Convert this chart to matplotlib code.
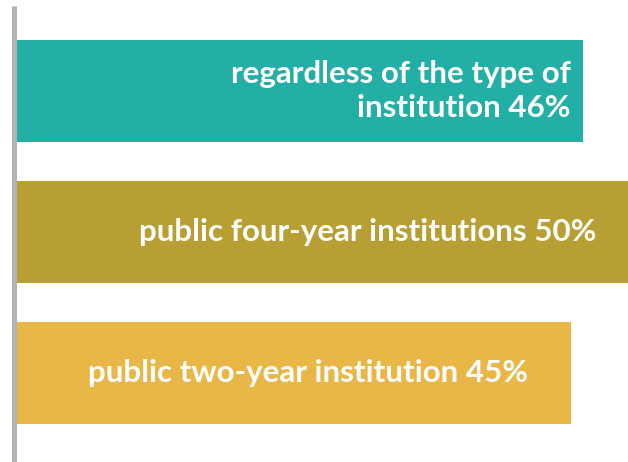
import matplotlib
matplotlib.use("Agg")
import matplotlib.pyplot as plt
from matplotlib.lines import Line2D

categories = ["regardless of the type of\ninstitution", "public four-year institutions", "public two-year institution"]
values = [46, 50, 45]
colors = ["#23AEA6", "#B89F33", "#E8B747"]
# right-edge text offset from bar end (data units)
text_right = [45.0, 47.1, 41.5]

W, H = 628, 462
fig = plt.figure(figsize=(W / 100, H / 100), dpi=100)
ax = fig.add_axes([17 / W, 0, 1 - 17 / W, 1])
ypos = list(range(len(values)))
ax.barh(ypos, values, height=0.723, color=colors, left=0)
ax.set_xlim(0, 611 / 12.31)
ax.set_ylim(2 + 89 / 141, -91 / 141)
ax.axis("off")

for y, cat, v, tx in zip(ypos, categories, values, text_right):
    ax.text(tx, y, f"{cat} {v}%", ha="right", va="center", color="white",
            fontsize=22.6, fontweight="bold", family="Lato", linespacing=1.27,
            multialignment="right")

fig.add_artist(Line2D([14.5 / W, 14.5 / W], [0, 1 - 6 / H], transform=fig.transFigure,
                      color="#B0B3B5", linewidth=3.6, solid_capstyle="butt"))

fig.savefig("out.png", dpi=100)
